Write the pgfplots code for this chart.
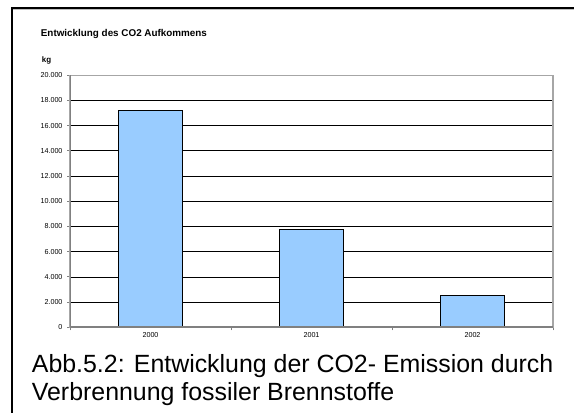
\documentclass[border=0pt]{standalone}
\usepackage{pgfplots}
\pgfplotsset{compat=1.18}
\usepackage{fontspec}
\setmainfont{Liberation Sans}
\definecolor{barblue}{HTML}{99CCFF}
\definecolor{axgray}{HTML}{808080}
\begin{document}
\begin{tikzpicture}[x=1bp,y=1bp]
\path[use as bounding box] (0,0) rectangle (574,412);
\draw[line width=1.5bp, black] (12,-1) -- (12,404) -- (575,404);
\draw[line width=0.6bp, black!25] (13,402.6) -- (575,402.6);
\node[anchor=base west, inner sep=0, font=\fontsize{9.9}{11}\selectfont\bfseries] at (40.7,375.3) {Entwicklung des CO2 Aufkommens};
\node[anchor=base west, inner sep=0, font=\fontsize{8}{9}\selectfont\bfseries] at (41.7,349.7) {kg};
\begin{axis}[
  at={(70bp,84.7bp)}, anchor=south west,
  width=483bp, height=252bp, scale only axis,
  xmin=-0.5, xmax=2.5, ymin=0, ymax=20000,
  ybar, bar width=64bp,
  tick pos=left,
  xtick={-0.5,0.5,1.5,2.5}, xticklabels={},
  extra x ticks={0,1,2}, extra x tick labels={2000,2001,2002},
  extra x tick style={major tick length=0pt},
  ytick={0,2000,...,20000},
  scaled y ticks=false,
  /pgf/number format/fixed,
  /pgf/number format/precision=0,
  /pgf/number format/1000 sep={.},
  /pgf/number format/assume math mode=true,
  tick label style={font=\fontsize{7.2}{8}\selectfont},
  tick align=outside,
  major tick length=3bp,
  tick style={axgray, line width=1bp},
  ymajorgrids, grid style={black, line width=0.8bp},
  axis line style={axgray!70, line width=1.2bp},
  xticklabel style={yshift=-2bp},
  yticklabel style={xshift=-1bp},
]
\addplot[fill=barblue, draw=black, line width=0.8bp] coordinates {(0,17200) (1,7800) (2,2500)};
\draw[line width=2bp, axgray] (rel axis cs:0,1) -- (rel axis cs:0,0) -- (rel axis cs:1,0);
\end{axis}
\node[anchor=base west, inner sep=0, font=\fontsize{25}{28.5}\selectfont] at (31.7,40) {Abb.5.2: Entwicklung der CO2- Emission durch};
\node[anchor=base west, inner sep=0, font=\fontsize{25}{28.5}\selectfont] at (31.7,11.3) {Verbrennung fossiler Brennstoffe};
\end{tikzpicture}
\end{document}
